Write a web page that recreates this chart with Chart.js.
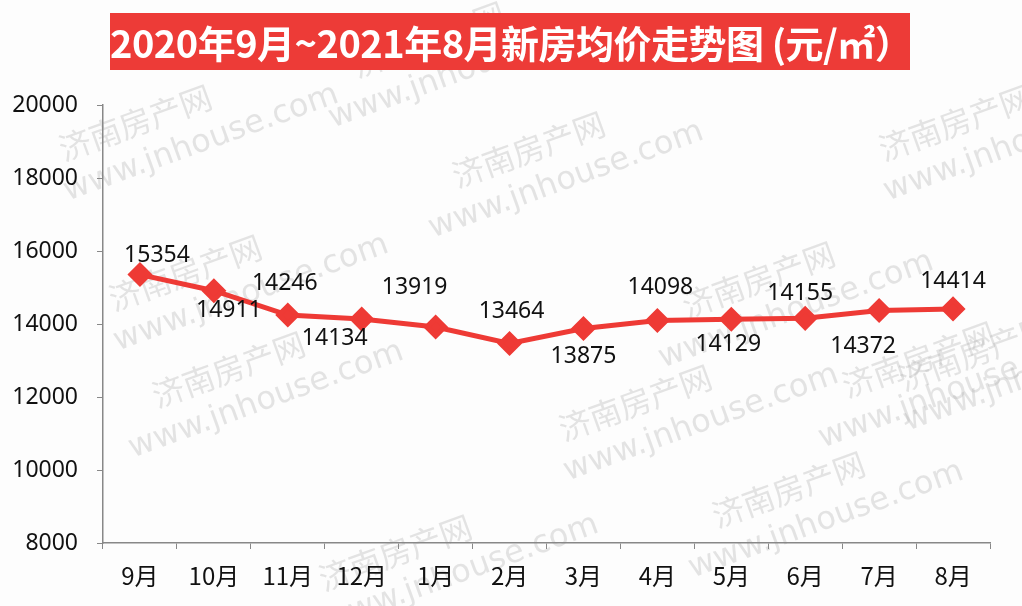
<!DOCTYPE html>
<html><head><meta charset="utf-8">
<script src="https://cdn.jsdelivr.net/npm/chart.js@4/dist/chart.umd.min.js"></script>
<style>
html,body{margin:0;padding:0;background:#fff;}
#wrap{position:relative;width:1022px;height:606px;background:#fdfdfd;}
#title{position:absolute;left:110px;top:13px;width:800px;height:57px;background:#ED3B37;color:#fff;
font-family:"Noto Sans CJK SC","Noto Sans",sans-serif;font-weight:bold;font-size:38px;line-height:57px;text-align:center;white-space:nowrap;z-index:2;letter-spacing:-0.5px;}
canvas{position:absolute;left:0;top:0;}
</style></head>
<body>
<div id="wrap">
<canvas id="c" width="1022" height="606"></canvas>
<div id="title">2020年9月~2021年8月新房均价走势图 (元/㎡）</div>
</div>
<script>
const categories = ['9月','10月','11月','12月','1月','2月','3月','4月','5月','6月','7月','8月'];
const prices = [15354,14911,14246,14134,13919,13464,13875,14098,14129,14155,14372,14414];
const yTicks = [8000,10000,12000,14000,16000,18000,20000];

const labelShift = [[17,-19],[15,20],[-3,-32],[-27,19],[-21,-40],[2,-32],[0,28],[3,-33],[-3,25],[-5,-25],[-16,36],[0,-27]];
const RED = '#EE3A35';

const watermark = {
  id:'watermark',
  beforeDraw(chart){
    const ctx = chart.ctx;
    const marks = [[60,150],[330,120],[880,150],[430,230],[110,300],[660,360],[900,380],[130,450],[560,430],[820,440],[320,580],[690,570]];
    ctx.save();
    ctx.fillStyle = 'rgba(170,170,170,0.3)';
    ctx.textAlign='left'; ctx.textBaseline='middle';
    marks.forEach(([x,y],i)=>{
      ctx.save();
      ctx.translate(x,y);
      ctx.rotate(-20*Math.PI/180);
      ctx.font = '32px "Noto Sans CJK SC"';
      if(i%2===0){ ctx.fillText('济南房产网',0,0); ctx.font='32px "DejaVu Sans"'; ctx.fillText('www.jnhouse.com',-10,42); }
      else { ctx.font='32px "DejaVu Sans"'; ctx.fillText('www.jnhouse.com',0,0); ctx.font = '32px "Noto Sans CJK SC"'; ctx.fillText('济南房产网',40,-42); }
      ctx.restore();
    });
    ctx.restore();
  }
};

const valueLabels = {
  id:'valueLabels',
  afterDatasetsDraw(chart){
    const ctx = chart.ctx;
    const meta = chart.getDatasetMeta(0);
    ctx.save();
    ctx.font = '23px "Noto Sans", sans-serif';
    ctx.fillStyle = '#111';
    ctx.textAlign='center'; ctx.textBaseline='middle';
    meta.data.forEach((pt,i)=>{
      const [dx,dy] = labelShift[i];
      ctx.fillText(String(prices[i]), pt.x+dx, pt.y+dy);
    });
    ctx.restore();
  }
};

new Chart(document.getElementById('c'),{
  type:'line',
  data:{labels:categories,datasets:[{data:prices,borderColor:RED,backgroundColor:RED,borderWidth:5,
    pointStyle:'rectRot',pointRadius:9,pointHoverRadius:9,pointBackgroundColor:RED,pointBorderColor:RED,tension:0,fill:false}]},
  options:{
    responsive:false,animation:false,
    layout:{padding:{top:105,right:32,left:0,bottom:0}},
    plugins:{legend:{display:false},tooltip:{enabled:false},title:{display:false}},
    scales:{
      x:{offset:true,
        grid:{display:true,drawOnChartArea:false,offset:true,tickLength:6,color:'#888'},
        border:{color:'#888',width:1.5},
        ticks:{color:'#111',font:{family:'"Noto Sans CJK SC"',size:24},padding:12,maxRotation:0},
        afterFit(s){s.height=63;}
      },
      y:{min:8000,max:20000,
        afterBuildTicks(s){s.ticks=yTicks.map(v=>({value:v}));},
        grid:{display:true,drawOnChartArea:false,tickLength:6,color:'#888'},
        border:{color:'#888',width:1.5},
        ticks:{color:'#111',font:{family:'"Noto Sans"',size:23},padding:19,callback:(v)=>String(v)},
        afterFit(s){s.width=103;}
      }
    }
  },
  plugins:[watermark,valueLabels]
});
</script>
</body></html>
